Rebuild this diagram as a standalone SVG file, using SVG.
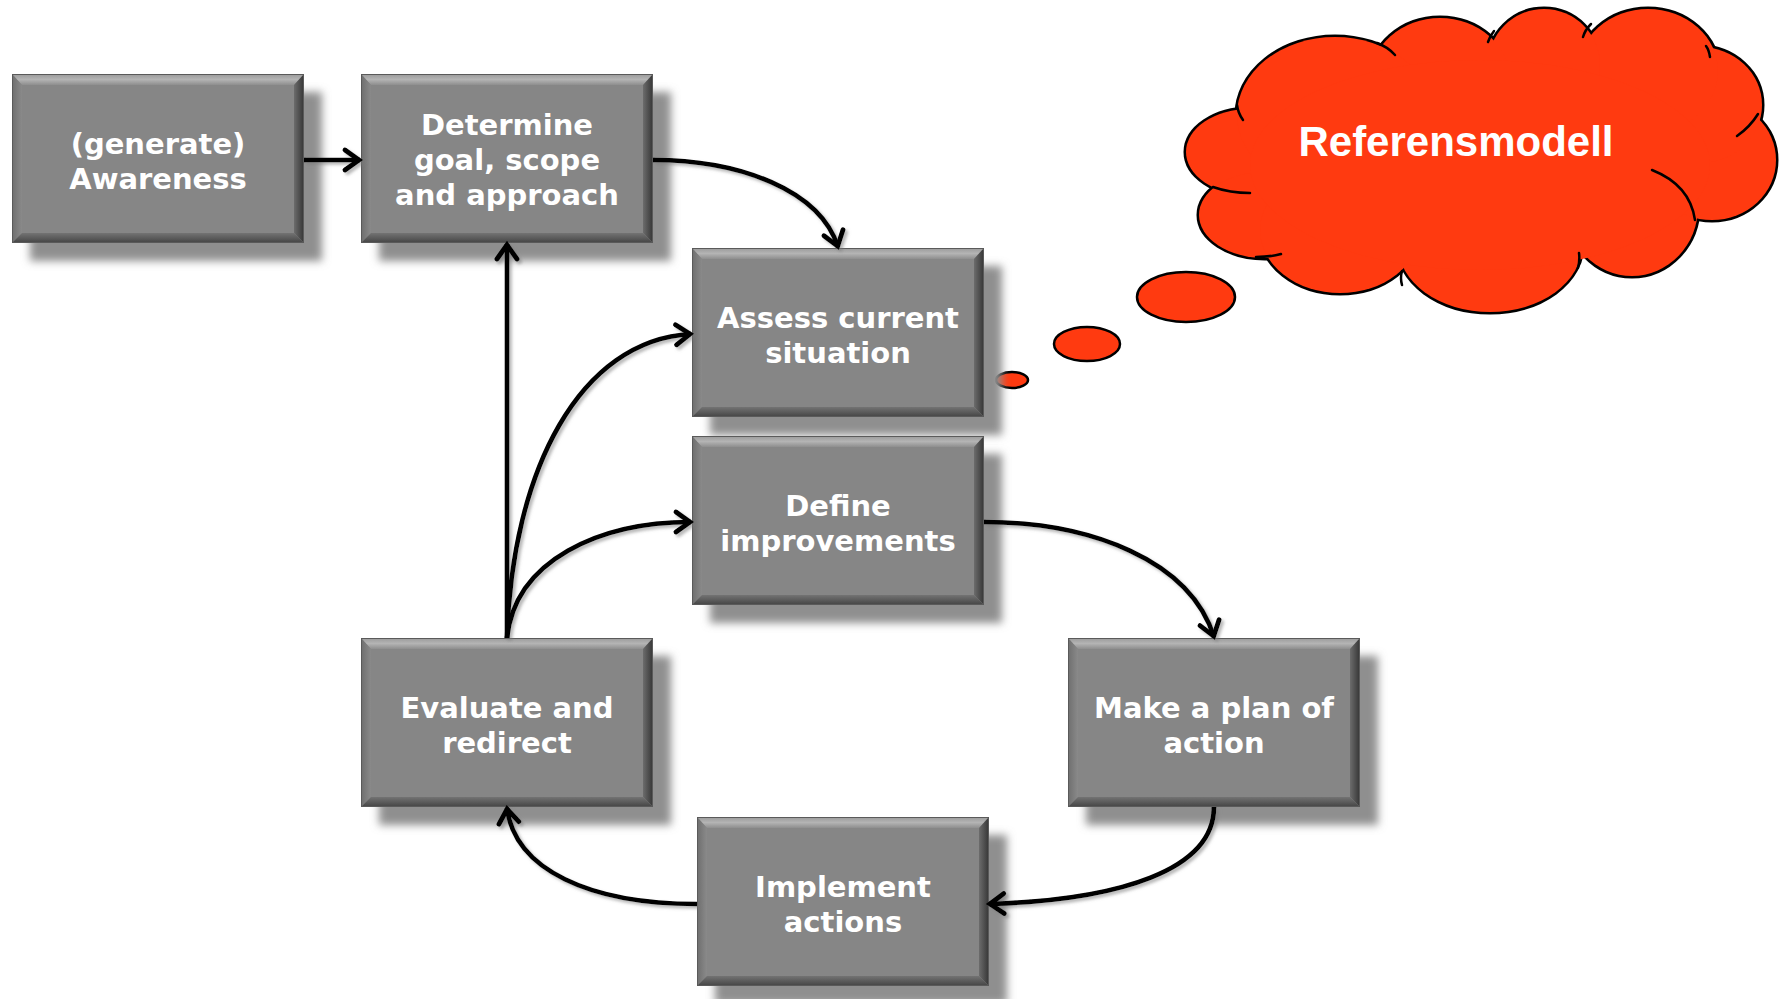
<svg xmlns="http://www.w3.org/2000/svg" xmlns:xlink="http://www.w3.org/1999/xlink" width="1787" height="999" viewBox="0 0 1787 999">
  <style>
    .label { font-family: "DejaVu Sans", Verdana, sans-serif; font-weight: bold; font-size: 29px; fill: #ffffff; text-anchor: middle; }
    .conn { fill: none; stroke: #000000; stroke-width: 4.6; stroke-linecap: butt; marker-end: url(#chevron); }
    .cloud-text { font-family: "Liberation Sans", Arial, sans-serif; font-weight: bold; font-size: 42px; fill: #ffffff; text-anchor: middle; }
    .tick { fill: none; stroke: #000000; stroke-width: 2.5; stroke-linecap: round; }
    .bubble { fill: #ff3a10; stroke: #000000; stroke-width: 2.5; }
  </style>
  <defs>
    <filter id="soft" x="-20%" y="-20%" width="140%" height="140%">
      <feGaussianBlur stdDeviation="4"/>
    </filter>
    <filter id="lineShadow" x="-10%" y="-10%" width="120%" height="120%">
      <feDropShadow dx="2.5" dy="2.5" stdDeviation="1.5" flood-color="#7a7a7a" flood-opacity="0.55"/>
    </filter>
    <linearGradient id="gTop" x1="0" y1="0" x2="0" y2="1">
      <stop offset="0" stop-color="#9a9a9a"/>
      <stop offset="0.5" stop-color="#b4b4b4"/>
      <stop offset="1" stop-color="#8e8e8e"/>
    </linearGradient>
    <linearGradient id="gRight" x1="0" y1="0" x2="1" y2="0">
      <stop offset="0" stop-color="#6c6c6c"/>
      <stop offset="1" stop-color="#353535"/>
    </linearGradient>
    <linearGradient id="gBottom" x1="0" y1="0" x2="0" y2="1">
      <stop offset="0" stop-color="#737373"/>
      <stop offset="1" stop-color="#444444"/>
    </linearGradient>
    <linearGradient id="gLeft" x1="0" y1="0" x2="1" y2="0">
      <stop offset="0" stop-color="#6e6e6e"/>
      <stop offset="1" stop-color="#8a8a8a"/>
    </linearGradient>
    <marker id="chevron" viewBox="-20 -15 24 30" markerWidth="24" markerHeight="30" refX="0" refY="0" orient="auto" markerUnits="userSpaceOnUse">
      <path d="M-15,-10 L-1,0 L-15,10" fill="none" stroke="#000000" stroke-width="4.8" stroke-linejoin="miter" stroke-linecap="round"/>
    </marker>
    <!-- bevelled grey block, 292 x 169, with its soft drop shadow -->
    <g id="block">
      <rect x="18" y="18" width="292" height="169" fill="#8f8f8f" filter="url(#soft)"/>
      <rect x="0" y="0" width="292" height="169" fill="#868686"/>
      <polygon points="0,0 292,0 282,11 10,11" fill="url(#gTop)"/>
      <polygon points="0,0 10,11 10,159 0,169" fill="url(#gLeft)"/>
      <polygon points="292,0 292,169 282,159 282,11" fill="url(#gRight)"/>
      <polygon points="0,169 10,159 282,159 292,169" fill="url(#gBottom)"/>
      <rect x="0.5" y="0.5" width="291" height="168" fill="none" stroke="#5a5a5a" stroke-width="1"/>
    </g>
    <!-- overlapping lobes that make up the cloud outline -->
    <g id="lobes">
      <ellipse cx="1250" cy="152" rx="64" ry="43"/>
      <ellipse cx="1265" cy="215" rx="66" ry="43"/>
      <ellipse cx="1340" cy="230" rx="80" ry="63"/>
      <ellipse cx="1490" cy="245" rx="92" ry="67"/>
      <ellipse cx="1632" cy="207" rx="66" ry="69"/>
      <ellipse cx="1712" cy="160" rx="64" ry="60"/>
      <ellipse cx="1700" cy="105" rx="62" ry="58"/>
      <ellipse cx="1648" cy="71" rx="70" ry="62"/>
      <ellipse cx="1544" cy="65" rx="56" ry="56"/>
      <ellipse cx="1440" cy="80" rx="70" ry="62"/>
      <ellipse cx="1335" cy="115" rx="98" ry="78"/>
    </g>
  </defs>

  <rect x="0" y="0" width="1787" height="999" fill="#ffffff"/>

  <!-- thought cloud -->
  <g id="referensmodell">
    <ellipse class="bubble" cx="1012" cy="380" rx="16" ry="8"/>
    <ellipse class="bubble" cx="1087" cy="344" rx="33" ry="17"/>
    <ellipse class="bubble" cx="1186" cy="297" rx="49" ry="25"/>
    <use xlink:href="#lobes" href="#lobes" fill="#ff3a10" stroke="#000000" stroke-width="5"/>
    <use xlink:href="#lobes" href="#lobes" fill="#ff3a10" stroke="none"/>
    <ellipse cx="1480" cy="165" rx="230" ry="105" fill="#ff3a10"/>
    <path class="tick" d="M1237,105 Q1238,113 1243,120"/>
    <path class="tick" d="M1213,187 Q1230,193 1250,193"/>
    <path class="tick" d="M1256,257 Q1270,257 1281,254"/>
    <path class="tick" d="M1402,285 Q1400,278 1402,271"/>
    <path class="tick" d="M1578,268 Q1580,260 1579,253"/>
    <path class="tick" d="M1652,170 Q1690,185 1695,220"/>
    <path class="tick" d="M1758,114 Q1750,127 1737,136"/>
    <path class="tick" d="M1706,46 Q1709,50 1710,57"/>
    <path class="tick" d="M1591,24 Q1585,30 1583,37"/>
    <path class="tick" d="M1494,31 Q1490,36 1488,42"/>
    <path class="tick" d="M1377,43 Q1388,47 1395,55"/>
    <text class="cloud-text" x="1456" y="156">Referensmodell</text>
  </g>

  <!-- process blocks -->
  <g id="awareness" transform="translate(12,74)">
    <use xlink:href="#block" href="#block"/>
    <text class="label" x="146"><tspan x="146" y="80">(generate)</tspan><tspan x="146" y="115">Awareness</tspan></text>
  </g>
  <g id="determine" transform="translate(361,74)">
    <use xlink:href="#block" href="#block"/>
    <text class="label" x="146"><tspan x="146" y="61">Determine</tspan><tspan x="146" y="96">goal, scope</tspan><tspan x="146" y="131">and approach</tspan></text>
  </g>
  <g id="assess" transform="translate(692,248)">
    <use xlink:href="#block" href="#block"/>
    <text class="label" x="146"><tspan x="146" y="80">Assess current</tspan><tspan x="146" y="115">situation</tspan></text>
  </g>
  <g id="define" transform="translate(692,436)">
    <use xlink:href="#block" href="#block"/>
    <text class="label" x="146"><tspan x="146" y="80">Define</tspan><tspan x="146" y="115">improvements</tspan></text>
  </g>
  <g id="evaluate" transform="translate(361,638)">
    <use xlink:href="#block" href="#block"/>
    <text class="label" x="146"><tspan x="146" y="80">Evaluate and</tspan><tspan x="146" y="115">redirect</tspan></text>
  </g>
  <g id="plan" transform="translate(1068,638)">
    <use xlink:href="#block" href="#block"/>
    <text class="label" x="146"><tspan x="146" y="80">Make a plan of</tspan><tspan x="146" y="115">action</tspan></text>
  </g>
  <g id="implement" transform="translate(697,817)">
    <use xlink:href="#block" href="#block"/>
    <text class="label" x="146"><tspan x="146" y="80">Implement</tspan><tspan x="146" y="115">actions</tspan></text>
  </g>

  <!-- connectors -->
  <g id="connectors" filter="url(#lineShadow)">
    <path class="conn" d="M304,160 L360,160"/>
    <path class="conn" d="M653,160 C740,160 820,190 838,247"/>
    <path class="conn" d="M507,638 L507,244"/>
    <path class="conn" d="M507,638 C512,470 580,340 691,334"/>
    <path class="conn" d="M507,638 C515,560 600,522 691,522"/>
    <path class="conn" d="M984,522 C1090,522 1190,560 1214,637"/>
    <path class="conn" d="M1214,807 C1214,870 1120,900 989,904"/>
    <path class="conn" d="M697,904 C590,904 515,870 507,808"/>
  </g>
</svg>
